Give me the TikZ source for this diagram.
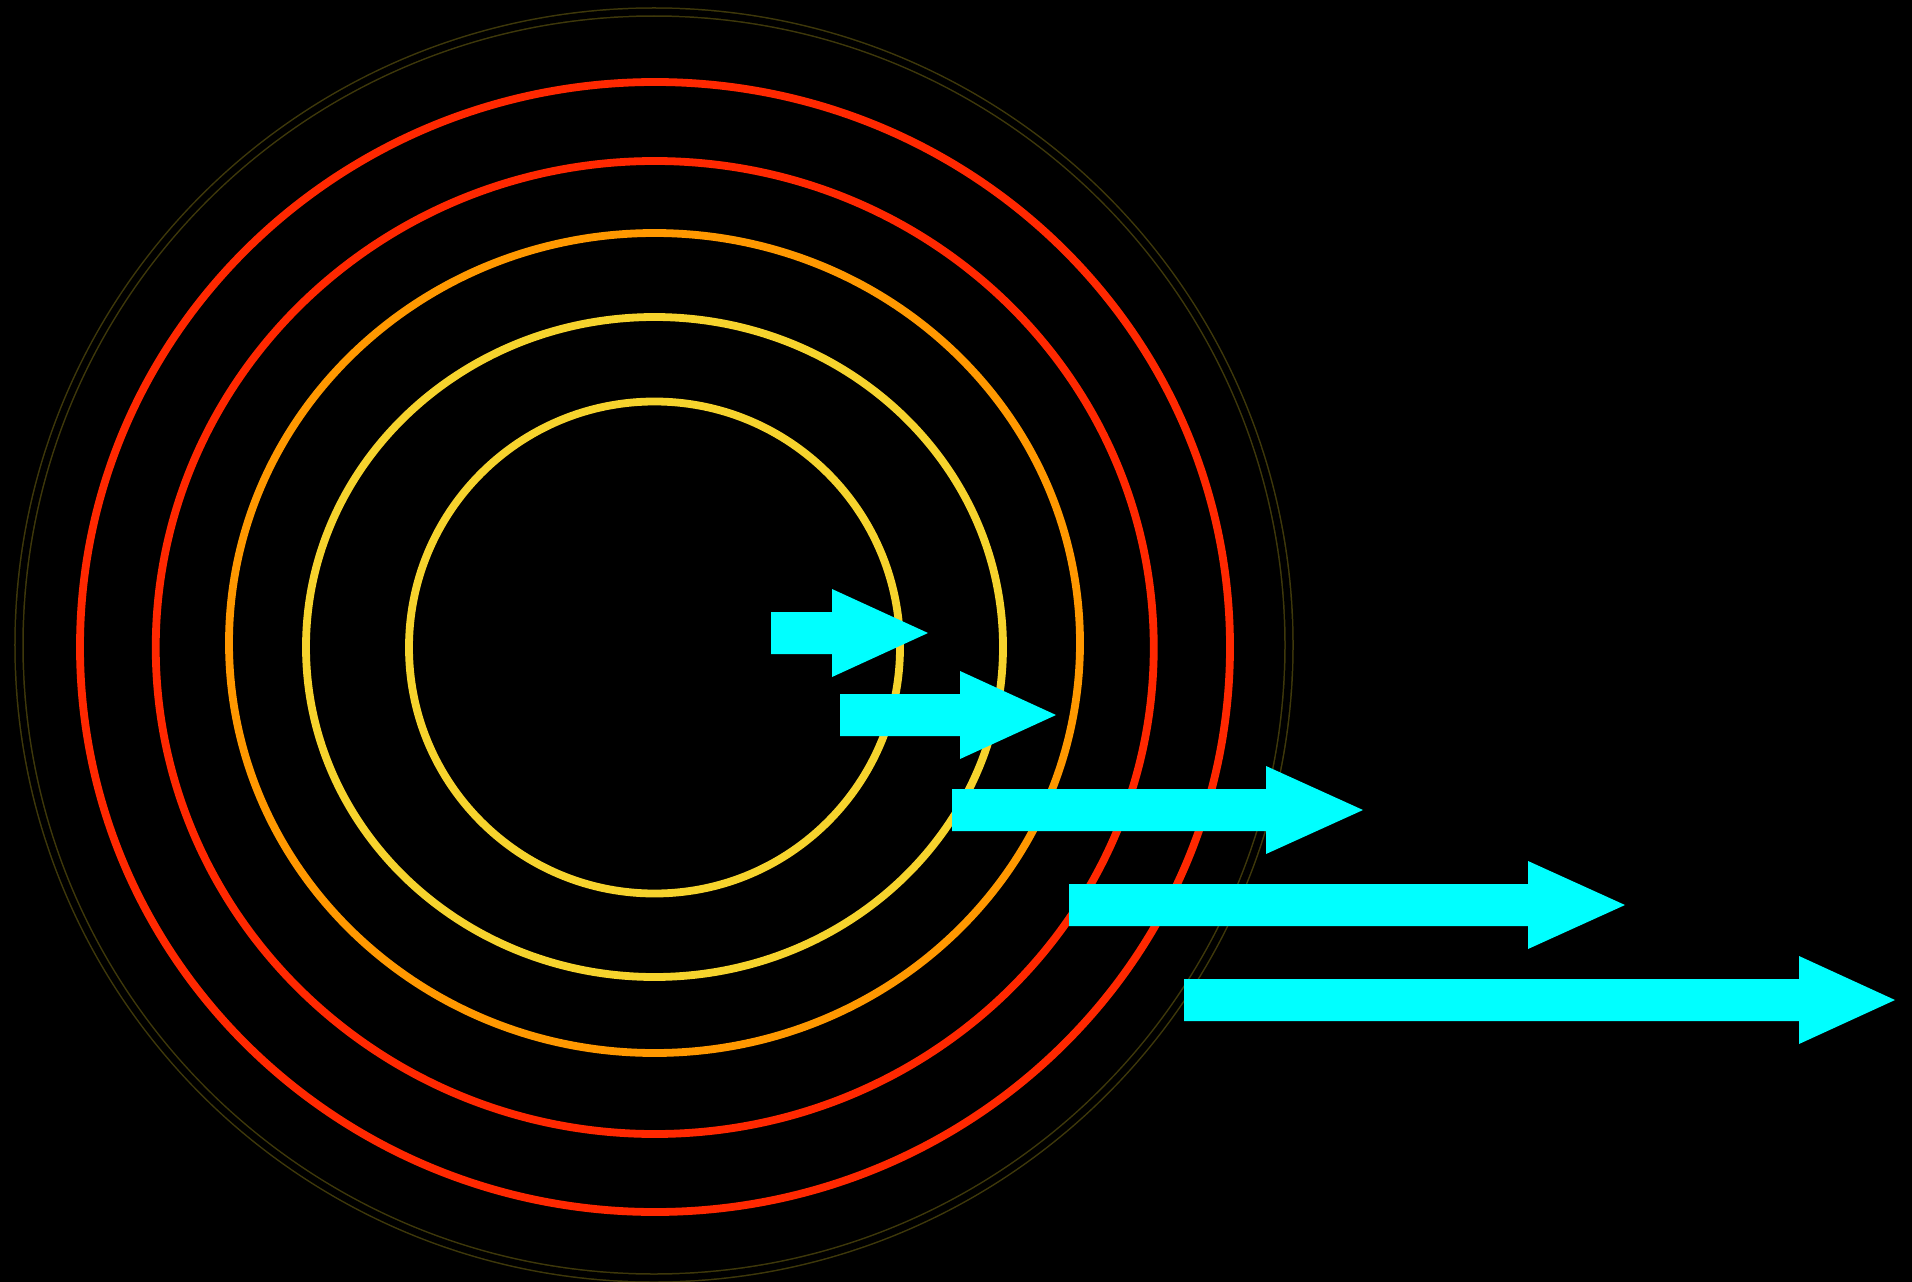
\documentclass[tikz,border=0pt]{standalone}
\usepackage{tikz}

\definecolor{ringgold}{RGB}{246,211,45}
\definecolor{ringorange}{RGB}{255,152,0}
\definecolor{ringred}{RGB}{255,40,0}
\definecolor{ringolive}{RGB}{62,56,10}
\definecolor{beamcyan}{RGB}{0,255,255}

\begin{document}
\begin{tikzpicture}[
  x=0.01cm, y=-0.01cm,
  ring/.style={line width=0.78mm},
  outerring/.style={draw=ringolive,line width=0.15mm,double=black,double distance=0.65mm},
  beam/.style={fill=beamcyan}
]
% background, fixes the page size
\fill[black] (0,0) rectangle (1912,1282);
\useasboundingbox (0,0) rectangle (1912,1282);

% rings, inside out
\draw[ring,draw=ringgold]   (654.5,647.5) ellipse [x radius=245.5,y radius=246];
\draw[ring,draw=ringgold]   (654.5,647)   ellipse [x radius=348.5,y radius=330];
\draw[ring,draw=ringorange] (654.5,643)   ellipse [x radius=425.5,y radius=410];
\draw[ring,draw=ringred]    (654.75,647.5) ellipse [x radius=499,y radius=486.5];
\draw[ring,draw=ringred]    (655,647)     ellipse [x radius=575,y radius=565];
\draw[outerring]            (654,645)     ellipse [x radius=635,y radius=633];

% arrows: tail x / head base x / tip x / mid y
\foreach \tail/\base/\tip/\mid in {771/832/928/633, 840/960/1056/715,
    952/1266/1363/810, 1069/1528/1625/905, 1184/1799/1895/1000}
  \fill[beam] (\tail,\mid-21) -- (\base,\mid-21) -- (\base,\mid-44) -- (\tip,\mid)
    -- (\base,\mid+44) -- (\base,\mid+21) -- (\tail,\mid+21) -- cycle;
\end{tikzpicture}
\end{document}
